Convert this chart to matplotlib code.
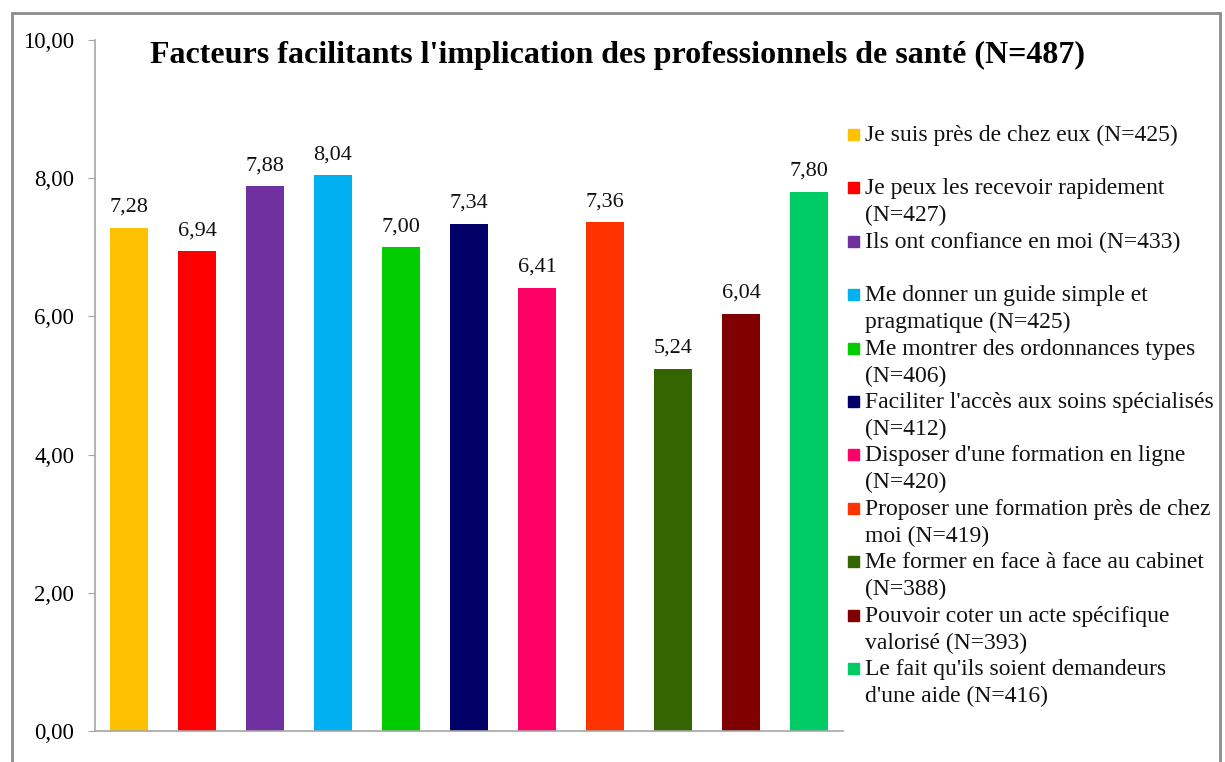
import matplotlib
matplotlib.use("Agg")
import matplotlib.pyplot as plt
from matplotlib.patches import Rectangle

categories = [
    "Je suis près de chez eux (N=425)",
    "Je peux les recevoir rapidement\n(N=427)",
    "Ils ont confiance en moi (N=433)",
    "Me donner un guide simple et\npragmatique (N=425)",
    "Me montrer des ordonnances types\n(N=406)",
    "Faciliter l'accès aux soins spécialisés\n(N=412)",
    "Disposer d'une formation en ligne\n(N=420)",
    "Proposer une formation près de chez\nmoi (N=419)",
    "Me former en face à face au cabinet\n(N=388)",
    "Pouvoir coter un acte spécifique\nvalorisé (N=393)",
    "Le fait qu'ils soient demandeurs\nd'une aide (N=416)",
]
values = [7.28, 6.94, 7.88, 8.04, 7.00, 7.34, 6.41, 7.36, 5.24, 6.04, 7.80]
colors = ["#FFC000", "#FF0000", "#7030A0", "#00B0F0", "#00CC00", "#000066",
          "#FF0066", "#FF3300", "#336600", "#800000", "#00CC66"]
yticks = [0, 2, 4, 6, 8, 10]
title = "Facteurs facilitants l'implication des professionnels de santé (N=487)"

plt.rcParams['font.family'] = ['Liberation Serif', 'DejaVu Serif']

W, H = 1225, 762
fig = plt.figure(figsize=(W / 100, H / 100), dpi=100)
ax = fig.add_axes([95 / W, 1 - 731 / H, (843 - 95) / W, (731 - 40) / H])

x = list(range(len(values)))
bars = ax.bar(x, values, width=0.56, color=colors)
for xi, v in zip(x, values):
    ax.annotate(f"{v:.2f}".replace(".", ","), (xi, v), xytext=(0, 8),
                textcoords="offset points", ha="center", va="bottom",
                fontsize=16, color="#111111")

ax.set_xlim(-0.5, len(values) - 0.5)
ax.set_ylim(0, 10)
ax.set_yticks(yticks)
ax.set_yticklabels([f"{t:.2f}".replace(".", ",") for t in yticks], fontsize=16.5)
ax.set_xticks([])
for s in ["top", "right"]:
    ax.spines[s].set_visible(False)
for s in ["left", "bottom"]:
    ax.spines[s].set_color("#A6A6A6")
    ax.spines[s].set_linewidth(1.2)
ax.tick_params(axis="y", direction="out", length=5, color="#A6A6A6", pad=10)

fig.text(617 / W, 1 - 63 / H, title, ha="center", va="baseline",
         fontsize=23, fontweight="bold")

# legend
for i, (lab, c) in enumerate(zip(categories, colors)):
    yc = 134 + 53.4 * i
    fig.patches.append(Rectangle((848 / W, 1 - (yc + 6) / H), 11 / W, 11 / H,
                                 transform=fig.transFigure, color=c, figure=fig))
    for j, line in enumerate(lab.split("\n")):
        fig.text(865 / W, 1 - (yc + 7 + 27 * j) / H, line, ha="left",
                 va="baseline", fontsize=17, color="#111111")

# outer border
fig.patches.append(Rectangle((12 / W, -0.05), (1220 - 12) / W, 1 - 13 / H + 0.05,
                             transform=fig.transFigure, fill=False,
                             edgecolor="#8C8C8C", linewidth=2, figure=fig))

fig.savefig("out.png", dpi=100)
